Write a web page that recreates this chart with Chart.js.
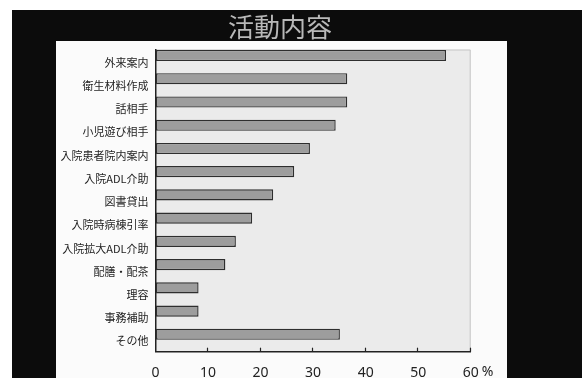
<!DOCTYPE html>
<html>
<head>
<meta charset="utf-8">
<script src="https://cdn.jsdelivr.net/npm/chart.js@4/dist/chart.umd.min.js"></script>
<style>
  html, body { margin: 0; padding: 0; background: #ffffff; }
  canvas { display: block; }
</style>
</head>
<body>
<canvas id="c" width="582" height="378"></canvas>
<script>
// 活動内容 — share of volunteers per activity (%)
const chartTitle = '活動内容';
const categories = [
  '外来案内', '衛生材料作成', '話相手', '小児遊び相手', '入院患者院内案内',
  '入院ADL介助', '図書貸出', '入院時病棟引率', '入院拡大ADL介助', '配膳・配茶',
  '理容', '事務補助', 'その他'
];
const percentages = [55.3, 36.5, 36.5, 34.3, 29.4, 26.4, 22.4, 18.4, 15.3, 13.3, 8.2, 8.2, 35.1];
const xTickValues = [0, 10, 20, 30, 40, 50, 60];
const unitLabel = '%';

const JP_FONT = '"Noto Sans CJK JP", "Noto Sans", sans-serif';
const NUM_FONT = '"Noto Sans", "Open Sans", sans-serif';

// slide backdrop, panel, plot area and title
const slideBackdrop = {
  id: 'slideBackdrop',
  beforeDraw(chart) {
    const { ctx, chartArea: a } = chart;
    ctx.save();
    ctx.fillStyle = '#ffffff';
    ctx.fillRect(0, 0, chart.width, chart.height);
    ctx.fillStyle = '#0c0c0c';
    ctx.fillRect(12, 10, chart.width - 12, chart.height - 10);
    ctx.fillStyle = '#fbfbfb';
    ctx.fillRect(56, 41, 451, chart.height - 41);
    ctx.fillStyle = '#ebebeb';
    ctx.fillRect(a.left, a.top, a.right - a.left, a.bottom - a.top);
    // faint frame on top and right
    ctx.strokeStyle = '#c6c6c6';
    ctx.lineWidth = 1;
    ctx.beginPath();
    ctx.moveTo(a.left, a.top + 0.5);
    ctx.lineTo(a.right - 0.5, a.top + 0.5);
    ctx.lineTo(a.right - 0.5, a.bottom);
    ctx.stroke();
    // title
    ctx.fillStyle = '#b8b8b8';
    ctx.font = '26px ' + JP_FONT;
    ctx.textAlign = 'center';
    ctx.textBaseline = 'middle';
    ctx.fillText(chartTitle, 280, 27);
    ctx.restore();
  },
  afterDraw(chart) {
    const { ctx, chartArea: a } = chart;
    const xs = chart.scales.x;
    ctx.save();
    // short tick marks pointing into the plot
    ctx.strokeStyle = '#222222';
    ctx.lineWidth = 1.2;
    xTickValues.slice(1).forEach(v => {
      const px = Math.round(xs.getPixelForValue(v)) - 0.5;
      ctx.beginPath();
      ctx.moveTo(px, a.bottom);
      ctx.lineTo(px, a.bottom - 4);
      ctx.stroke();
    });
    // unit after the last tick label
    const last = xTickValues[xTickValues.length - 1];
    ctx.fillStyle = '#222222';
    ctx.font = '14px ' + NUM_FONT;
    ctx.textAlign = 'left';
    ctx.textBaseline = 'middle';
    ctx.fillText(unitLabel, xs.getPixelForValue(last) + 11, 372);
    ctx.restore();
  }
};

new Chart(document.getElementById('c'), {
  type: 'bar',
  data: {
    datasets: [{
      data: percentages.map((v, i) => ({ x: v, y: i })),
      backgroundColor: '#9d9d9d',
      borderColor: '#2e2e2e',
      borderWidth: 1.4,
      borderSkipped: false,
      barPercentage: 0.96,
      categoryPercentage: 0.5
    }]
  },
  options: {
    indexAxis: 'y',
    responsive: false,
    animation: false,
    layout: { padding: { top: 49.5, right: 111.3, bottom: 0, left: 0 } },
    plugins: {
      legend: { display: false },
      tooltip: { enabled: false },
      title: { display: false }
    },
    scales: {
      x: {
        type: 'linear',
        min: 0,
        max: 60,
        afterBuildTicks(scale) { scale.ticks = xTickValues.map(v => ({ value: v })); },
        afterFit(scale) { scale.height = 26.3; },
        grid: { drawOnChartArea: false, drawTicks: false },
        border: { display: true, color: '#222222', width: 1.5 },
        ticks: {
          padding: 13,
          color: '#222222',
          font: { family: NUM_FONT, size: 14 },
          maxRotation: 0,
          autoSkip: false
        }
      },
      y: {
        type: 'linear',
        offset: false,
        reverse: true,
        min: -0.26,
        max: 12.75,
        afterBuildTicks(scale) { scale.ticks = categories.map((_, i) => ({ value: i })); },
        afterFit(scale) { scale.width = 155.5; },
        grid: { drawOnChartArea: false, drawTicks: false },
        border: { display: true, color: '#222222', width: 1.5 },
        ticks: {
          padding: 7,
          labelOffset: 7,
          color: '#1e1e1e',
          autoSkip: false,
          font: { family: JP_FONT, size: 11 },
          callback: v => categories[v]
        }
      }
    }
  },
  plugins: [slideBackdrop]
});
</script>
</body>
</html>
